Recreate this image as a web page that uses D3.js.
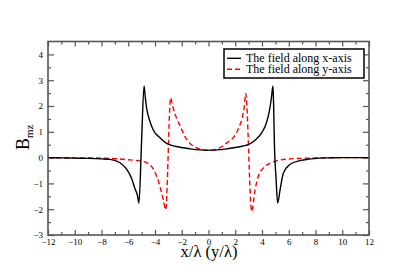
<!DOCTYPE html>
<html>
<head>
<meta charset="utf-8">
<script src="https://cdn.jsdelivr.net/npm/d3@7"></script>
<style>
  body { margin: 0; background: #fff; }
  svg text { font-family: "Liberation Serif", "Times New Roman", Times, serif !important; }
</style>
</head>
<body>
<div id="chart"></div>
<script>
  // Field along x-axis (black solid)
  const xAlongX = [-12, -11, -10, -9, -8, -7.36, -6.62, -6.12, -5.74, -5.5, -5.32, -5.2,
                   -5.0, -4.82, -4.72, -4.62, -4.37, -4.13, -3.63, -3.13, -2.5, -1.88, -1.25, -0.64, 0,
                   0.64, 1.25, 1.88, 2.5, 2.98, 3.5, 4.0, 4.3, 4.55, 4.7, 4.82,
                   4.87, 4.93, 5.05, 5.17, 5.35, 5.6, 6.1, 6.84, 7.5, 8.34, 9, 10, 11, 12];
  const fieldX   = [0.0, -0.01, -0.02, -0.03, -0.05, -0.07, -0.2, -0.45, -0.82, -1.2, -1.45, -1.76,
                   0.68, 2.78, 2.3, 1.9, 1.39, 1.07, 0.77, 0.55, 0.44, 0.38, 0.33, 0.3, 0.29,
                   0.3, 0.33, 0.38, 0.44, 0.5, 0.68, 0.98, 1.3, 1.8, 2.3, 2.78,
                   2.0, 0.5, -0.8, -1.76, -1.25, -0.6, -0.26, -0.12, -0.06, -0.02, -0.01, 0.0, 0.0, 0.0];

  // Field along y-axis (red dashed)
  const xAlongY = [-12, -10, -8, -7.36, -5.87, -4.87, -4.25, -3.87, -3.63, -3.38, -3.2,
                   -2.83, -2.72, -2.63, -2.38, -2.13, -1.76, -1.38, -0.88, -0.4, 0,
                   0.4, 0.99, 1.4, 2.0, 2.3, 2.55, 2.68, 2.78,
                   3.23, 3.48, 3.72, 4.1, 4.72, 5.85, 7, 8.34, 10, 12];
  const fieldY   = [0.0, -0.01, -0.02, -0.03, -0.09, -0.15, -0.35, -0.73, -1.12, -1.63, -2.02,
                   2.32, 2.1, 1.91, 1.52, 1.24, 0.81, 0.55, 0.38, 0.3, 0.28,
                   0.3, 0.42, 0.58, 0.88, 1.2, 1.6, 2.0, 2.49,
                   -2.08, -1.25, -0.73, -0.41, -0.19, -0.06, -0.03, -0.01, 0.0, 0.0];

  // Tick values
  const xMajorTicks = [-12, -10, -8, -6, -4, -2, 0, 2, 4, 6, 8, 10, 12];
  const xMinorTicks = [-11, -9, -7, -5, -3, -1, 1, 3, 5, 7, 9, 11];
  const yMajorTicks = [-3, -2, -1, 0, 1, 2, 3, 4];
  const yMinorTicks = [-2.5, -1.5, -0.5, 0.5, 1.5, 2.5, 3.5];

  const legendLabels = ["The field along x-axis", "The field along y-axis"];

  const serif = "'Liberation Serif', 'Times New Roman', Times, serif";

  // Set dimensions and margins
  const width = 415;
  const height = 277;
  const margin = {left: 48, right: 46, top: 41.5, bottom: 42};

  let svg = d3.select("#chart")
    .append("svg")
    .attr("width", width)
    .attr("height", height)
    .attr("font-family", serif);

  svg.append("rect").attr("width", width).attr("height", height).attr("fill", "#fff");

  // Scales
  let xScale = d3.scaleLinear()
    .domain([-12, 12])
    .range([margin.left, width - margin.right]);

  let yScale = d3.scaleLinear()
    .domain([-3, 4.5])
    .range([height - margin.bottom, margin.top]);

  const axisColor = "#555";

  // helper to style an axis group
  function styleAxis(g) {
    g.attr("font-family", serif);
    g.select(".domain").remove();
    g.selectAll(".tick line").attr("stroke", axisColor).attr("stroke-width", 1.2);
    g.selectAll(".tick text").attr("fill", "#000").attr("font-size", "9px");
  }

  // Bottom axis, labels + inward ticks
  svg.append("g")
    .attr("transform", `translate(0,${yScale(-3)})`)
    .call(d3.axisBottom(xScale).tickValues(xMajorTicks).tickSizeInner(-5).tickSizeOuter(0).tickPadding(3.5).tickFormat(d3.format("d")))
    .call(styleAxis);
  svg.append("g")
    .attr("transform", `translate(0,${yScale(-3)})`)
    .call(d3.axisBottom(xScale).tickValues(xMinorTicks).tickSizeInner(-3).tickSizeOuter(0).tickFormat(""))
    .call(styleAxis);

  // Top axis, ticks only
  svg.append("g")
    .attr("transform", `translate(0,${yScale(4.5)})`)
    .call(d3.axisTop(xScale).tickValues(xMajorTicks).tickSizeInner(-5).tickSizeOuter(0).tickFormat(""))
    .call(styleAxis);
  svg.append("g")
    .attr("transform", `translate(0,${yScale(4.5)})`)
    .call(d3.axisTop(xScale).tickValues(xMinorTicks).tickSizeInner(-3).tickSizeOuter(0).tickFormat(""))
    .call(styleAxis);

  // Left axis, labels + inward ticks
  svg.append("g")
    .attr("transform", `translate(${xScale(-12)},0)`)
    .call(d3.axisLeft(yScale).tickValues(yMajorTicks).tickSizeInner(-6).tickSizeOuter(0).tickPadding(5).tickFormat(d3.format("d")))
    .call(styleAxis);
  svg.append("g")
    .attr("transform", `translate(${xScale(-12)},0)`)
    .call(d3.axisLeft(yScale).tickValues(yMinorTicks).tickSizeInner(-3).tickSizeOuter(0).tickFormat(""))
    .call(styleAxis);

  // Right axis, ticks only
  svg.append("g")
    .attr("transform", `translate(${xScale(12)},0)`)
    .call(d3.axisRight(yScale).tickValues(yMajorTicks).tickSizeInner(-6).tickSizeOuter(0).tickFormat(""))
    .call(styleAxis);
  svg.append("g")
    .attr("transform", `translate(${xScale(12)},0)`)
    .call(d3.axisRight(yScale).tickValues(yMinorTicks).tickSizeInner(-3).tickSizeOuter(0).tickFormat(""))
    .call(styleAxis);

  // Lines
  let line = d3.line()
    .x(d => xScale(d[0]))
    .y(d => yScale(d[1]))
    .curve(d3.curveMonotoneX);

  svg.append("path")
    .datum(xAlongY.map((x, i) => [x, fieldY[i]]))
    .attr("fill", "none")
    .attr("stroke", "#ff0000")
    .attr("stroke-width", 1.4)
    .attr("stroke-dasharray", "5,3")
    .attr("d", line);

  svg.append("path")
    .datum(xAlongX.map((x, i) => [x, fieldX[i]]))
    .attr("fill", "none")
    .attr("stroke", "#000")
    .attr("stroke-width", 1.4)
    .attr("d", line);

  // Frame
  svg.append("rect")
    .attr("x", xScale(-12))
    .attr("y", yScale(4.5))
    .attr("width", xScale(12) - xScale(-12))
    .attr("height", yScale(-3) - yScale(4.5))
    .attr("fill", "none")
    .attr("stroke", axisColor)
    .attr("stroke-width", 1.6);

  // Legend
  let legend = svg.append("g").attr("transform", "translate(224,49)");
  legend.append("rect")
    .attr("width", 140)
    .attr("height", 29)
    .attr("fill", "#fff")
    .attr("stroke", "#000")
    .attr("stroke-width", 1.5);

  const legendStyles = [{color: "#000", dash: null}, {color: "#ff0000", dash: "5,3"}];
  legendLabels.forEach(function(label, i) {
    let yy = 9.3 + i * 11;
    legend.append("line")
      .attr("x1", 3).attr("x2", 17)
      .attr("y1", yy).attr("y2", yy)
      .attr("stroke", legendStyles[i].color)
      .attr("stroke-width", 1.4)
      .attr("stroke-dasharray", legendStyles[i].dash);
    legend.append("text")
      .attr("x", 22)
      .attr("y", yy + 3.3)
      .attr("font-size", "12px")
      .text(label);
  });

  // Axis titles
  svg.append("text")
    .attr("x", (xScale(-12) + xScale(12)) / 2 + 0.5)
    .attr("y", 257)
    .attr("text-anchor", "middle")
    .attr("font-size", "16.5px")
    .text("x/λ (y/λ)");

  let yTitle = svg.append("text")
    .attr("transform", "translate(29,150) rotate(-90)")
    .attr("font-size", "18px");
  yTitle.append("tspan").text("B");
  yTitle.append("tspan").attr("dy", 4).attr("font-size", "11px").text("mz");
</script>
</body>
</html>
